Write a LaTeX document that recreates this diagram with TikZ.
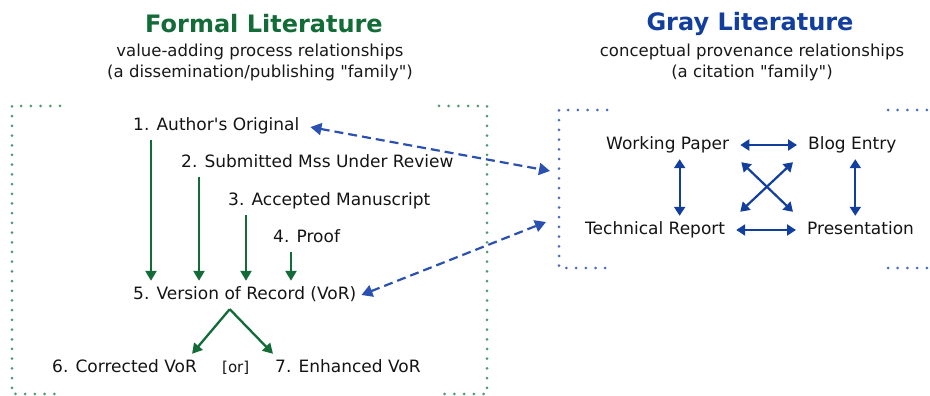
\documentclass[tikz,border=0pt]{standalone}
\usepackage{fontspec}
\setmainfont{DejaVu Sans}
\usepackage{xcolor}
\usetikzlibrary{arrows.meta,positioning}
\definecolor{formalgreen}{HTML}{136B38}
\definecolor{dotgreen}{HTML}{4F9A72}
\definecolor{grayblue}{HTML}{123E9E}
\definecolor{linkblue}{HTML}{2A50B0}
\definecolor{dotblue}{HTML}{4A6CC2}
\tikzset{
    family-title/.style = {font=\fontsize{24}{28}\bfseries\selectfont},
    family-sub/.style = {align=center, text=black!90, font=\fontsize{16.5}{21}\selectfont},
    lit-item/.style = {anchor=west, inner xsep=5pt, inner ysep=6pt, text height=12.5pt, text depth=3.5pt, text=black!92, font=\fontsize{17}{20}\selectfont},
    formal-arrow/.style = {draw=formalgreen, line width=2.3pt, -{Triangle[length=10pt,width=11pt]}},
    gray-arrow/.style = {draw=grayblue, line width=2.2pt, {Triangle[length=9pt,width=11pt]}-{Triangle[length=9pt,width=11pt]}},
    link-arrow/.style = {draw=linkblue, line width=2.2pt, dash pattern=on 9pt off 5pt, {Triangle[length=11pt,width=12pt]}-{Triangle[length=11pt,width=12pt]}},
    formal-frame/.style = {draw=dotgreen, line width=3pt, line cap=round, dash pattern=on 0pt off 9.7pt},
    gray-frame/.style = {draw=dotblue, line width=3pt, line cap=round, dash pattern=on 0pt off 9.7pt},
}
\begin{document}
\begin{tikzpicture}[x=1pt,y=1pt]
\useasboundingbox (0,0) rectangle (930,396);

\node[family-title, text=formalgreen] (ft) at (264,372) {Formal Literature};
\node[family-sub] (fs) at (260,334) {value-adding process relationships\\(a dissemination/publishing \textquotedbl family\textquotedbl)};
\node[family-title, text=grayblue] (gt) at (750,372) {Gray Literature};
\node[family-sub] (gs) at (752,334) {conceptual provenance relationships\\(a citation \textquotedbl family\textquotedbl)};

\draw[formal-frame] (60,290) -- (12,290) -- (12,2) -- (60,2);
\draw[formal-frame] (439,290) -- (487,290) -- (487,2) -- (439,2);
\draw[gray-frame] (607,286) -- (559,286) -- (559,128) -- (607,128);
\draw[gray-frame] (888,286) -- (930,286);
\draw[gray-frame] (888,128) -- (930,128);

\node[lit-item] (a1) at (128,270) {1. Author\textquotesingle s Original};
\node[lit-item] (a2) at (176,233) {2. Submitted Mss Under Review};
\node[lit-item] (a3) at (223,195) {3. Accepted Manuscript};
\node[lit-item] (a4) at (268,158) {4. Proof};
\node[lit-item] (v5) at (128,101) {5. Version of Record (VoR)};
\node[lit-item] (c6) at (47,28) {6. Corrected VoR};
\node[lit-item, font=\fontsize{15}{18}\selectfont] (or) at (217,28) {[or]};
\node[lit-item] (e7) at (270,28) {7. Enhanced VoR};

\foreach \src in {a1,a2,a3,a4}
    \draw[formal-arrow] ([xshift=23pt]\src.south west) -- ([xshift=23pt]\src.south west |- v5.north);
\draw[formal-arrow] ([xshift=-15pt]v5.south) -- ([xshift=-10pt]c6.north east);
\draw[formal-arrow] ([xshift=-15pt]v5.south) -- ([xshift=3pt]e7.north west);

\node[lit-item] (wp) at (601,251) {Working Paper};
\node[lit-item] (be) at (803,251) {Blog Entry};
\node[lit-item] (tr) at (580,166) {Technical Report};
\node[lit-item] (pr) at (802,166) {Presentation};

\draw[gray-arrow, shorten <=6pt, shorten >=6pt] (wp.east) -- (be.west);
\draw[gray-arrow, shorten <=6pt, shorten >=6pt] (tr.east) -- (pr.west);
\draw[gray-arrow] ([xshift=12pt]wp.south) -- ([xshift=12pt]wp.south |- tr.north);
\draw[gray-arrow] ([xshift=3pt]be.south) -- ([xshift=3pt]be.south |- pr.north);
\draw[gray-arrow] ([shift={(7pt,-3pt)}]wp.south east) -- ([shift={(-9pt,4pt)}]pr.north west);
\draw[gray-arrow] ([shift={(-10pt,-3pt)}]be.south west) -- ([shift={(10pt,4pt)}]tr.north east);

\coordinate (gin1) at (550,225);
\coordinate (gin2) at (546,174);
\draw[link-arrow, shorten <=6pt] (a1.east) -- (gin1);
\draw[link-arrow] (v5.east) -- (gin2);
\end{tikzpicture}
\end{document}
